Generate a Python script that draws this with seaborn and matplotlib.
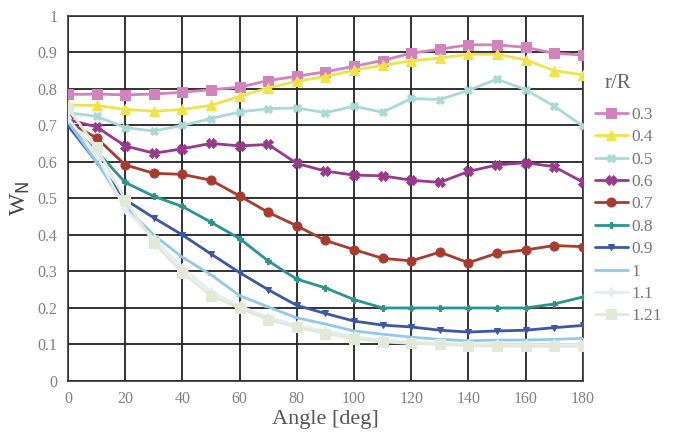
import matplotlib
matplotlib.use("Agg")
import matplotlib.pyplot as plt
import seaborn as sns
import pandas as pd
import numpy as np

angles = list(range(0, 181, 10))
labels = ["0.3", "0.4", "0.5", "0.6", "0.7", "0.8", "0.9", "1", "1.1", "1.21"]

w_03 = [0.785, 0.786, 0.784, 0.786, 0.791, 0.798, 0.805, 0.823, 0.835, 0.847, 0.862, 0.878, 0.898, 0.909, 0.921, 0.921, 0.914, 0.898, 0.893]
w_04 = [0.756, 0.755, 0.744, 0.739, 0.744, 0.755, 0.780, 0.803, 0.821, 0.834, 0.851, 0.865, 0.877, 0.885, 0.895, 0.895, 0.880, 0.850, 0.839]
w_05 = [0.735, 0.725, 0.694, 0.685, 0.700, 0.719, 0.737, 0.746, 0.748, 0.735, 0.753, 0.736, 0.774, 0.771, 0.796, 0.827, 0.798, 0.753, 0.698]
w_06 = [0.716, 0.696, 0.644, 0.624, 0.636, 0.651, 0.644, 0.648, 0.596, 0.575, 0.564, 0.562, 0.550, 0.544, 0.574, 0.592, 0.598, 0.587, 0.545]
w_07 = [0.710, 0.666, 0.592, 0.569, 0.566, 0.550, 0.507, 0.462, 0.425, 0.385, 0.360, 0.336, 0.329, 0.353, 0.324, 0.350, 0.359, 0.371, 0.368]
w_08 = [0.705, 0.630, 0.544, 0.506, 0.478, 0.435, 0.390, 0.329, 0.279, 0.255, 0.223, 0.200, 0.200, 0.200, 0.200, 0.200, 0.200, 0.211, 0.230]
w_09 = [0.700, 0.600, 0.497, 0.447, 0.400, 0.348, 0.297, 0.250, 0.207, 0.185, 0.164, 0.153, 0.148, 0.139, 0.134, 0.137, 0.139, 0.146, 0.152]
w_10 = [0.710, 0.600, 0.479, 0.400, 0.339, 0.291, 0.234, 0.203, 0.173, 0.156, 0.137, 0.128, 0.120, 0.114, 0.110, 0.112, 0.112, 0.114, 0.117]
w_11 = [0.720, 0.620, 0.470, 0.390, 0.310, 0.245, 0.205, 0.175, 0.152, 0.137, 0.122, 0.112, 0.106, 0.103, 0.101, 0.100, 0.100, 0.100, 0.100]
w_121 = [0.748, 0.640, 0.497, 0.379, 0.297, 0.234, 0.199, 0.168, 0.147, 0.130, 0.116, 0.107, 0.103, 0.100, 0.097, 0.095, 0.095, 0.095, 0.095]

series = [w_03, w_04, w_05, w_06, w_07, w_08, w_09, w_10, w_11, w_121]
colors = ["#d383bb", "#f2e24a", "#a9d9d9", "#973a8c", "#a83b2e", "#2a9490", "#3b57a6", "#93c9e8", "#e3eef2", "#e2e9d9"]
markers = ["s", "^", "X", "X", "o", "P", "v", "_", "d", "s"]
msizes = [6.5, 7.5, 5.5, 6.5, 6.5, 4.5, 4.5, 5.5, 5.5, 6.5]

rows = []
for lab, vals in zip(labels, series):
    for a, v in zip(angles, vals):
        rows.append({"Angle": a, "W": v, "r/R": lab})
df = pd.DataFrame(rows)

sns.set_style("white")
plt.rcParams["font.family"] = ["Liberation Serif", "DejaVu Serif"]

fig = plt.figure(figsize=(6.73, 4.44), dpi=100)
ax = fig.add_axes([0.101, 0.142, 0.765, 0.822])

for lab, c, m, ms in zip(labels, colors, markers, msizes):
    sub = df[df["r/R"] == lab]
    sns.lineplot(data=sub, x="Angle", y="W", ax=ax, color=c, marker=m,
                 markersize=ms, markeredgecolor=c, linewidth=2.0, label=lab,
                 zorder=3)

ax.set_xlim(0, 180)
ax.set_ylim(0, 1)
ax.set_xticks(range(0, 181, 20))
ax.set_yticks([i / 10 for i in range(11)])
ax.set_yticklabels(["0", "0.1", "0.2", "0.3", "0.4", "0.5", "0.6", "0.7", "0.8", "0.9", "1"])
ax.grid(True, color="#222222", linewidth=1.3, zorder=0)
ax.set_axisbelow(True)
for s in ax.spines.values():
    s.set_color("#333333")
    s.set_linewidth(1.2)
ax.tick_params(axis="both", colors="#333333", labelcolor="#808080", labelsize=11.5,
               direction="out", length=4, width=1.2)
ax.set_xlabel("Angle [deg]", fontsize=16, color="#555555", labelpad=2)
ax.set_ylabel("W$_\\mathrm{N}$", fontsize=17, color="#444444", labelpad=4)

leg = ax.legend(loc="upper left", bbox_to_anchor=(1.003, 0.780),
                frameon=False, fontsize=12.5, handlelength=1.9,
                labelspacing=0.36, borderaxespad=0.2, handletextpad=0.2)
for t in leg.get_texts():
    t.set_color("#777777")
fig.text(0.918, 0.813, "r/R", fontsize=15, color="#666666", ha="center", va="center")

fig.savefig("out.png", dpi=100)
